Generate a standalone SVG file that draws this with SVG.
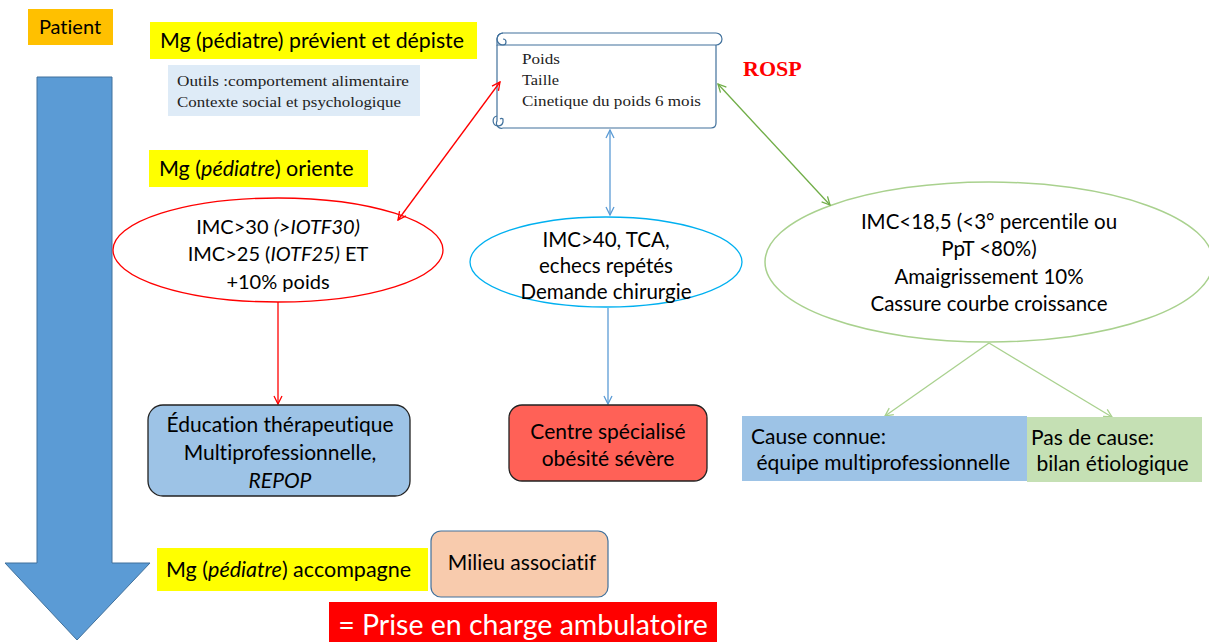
<svg xmlns="http://www.w3.org/2000/svg" width="1209" height="642" viewBox="0 0 1209 642">
<defs>
<style>
.t{font-family:Lato,"Liberation Sans",sans-serif;fill:#000;font-variant-ligatures:none;}
.s{font-family:"Liberation Serif",serif;fill:#222;font-size:15.5px;}
.c{text-anchor:middle;}
</style>
<marker id="aR" viewBox="0 0 10 10" refX="9" refY="5" markerWidth="10" markerHeight="10" orient="auto-start-reverse" markerUnits="userSpaceOnUse"><path d="M1,1 L9,5 L1,9" fill="none" stroke="#FF0000" stroke-width="1.3"/></marker>
<marker id="aB" viewBox="0 0 10 10" refX="9" refY="5" markerWidth="10" markerHeight="10" orient="auto-start-reverse" markerUnits="userSpaceOnUse"><path d="M1,1 L9,5 L1,9" fill="none" stroke="#5B9BD5" stroke-width="1.3"/></marker>
<marker id="aG" viewBox="0 0 10 10" refX="9" refY="5" markerWidth="10" markerHeight="10" orient="auto-start-reverse" markerUnits="userSpaceOnUse"><path d="M1,1 L9,5 L1,9" fill="none" stroke="#70AD47" stroke-width="1.3"/></marker>
<marker id="aL" viewBox="0 0 10 10" refX="9" refY="5" markerWidth="10" markerHeight="10" orient="auto-start-reverse" markerUnits="userSpaceOnUse"><path d="M1,1 L9,5 L1,9" fill="none" stroke="#A9D18E" stroke-width="1.3"/></marker>
</defs>
<rect width="1209" height="642" fill="#fff"/>

<g id="bigArrow">
<path d="M37,77 L112,77 L112,563 L150,563 L77,640 L5,563 L37,563 Z" fill="#5B9BD5" stroke="#41719C" stroke-width="1"/>
</g>

<g id="patient">
<rect x="28" y="9" width="85" height="36" fill="#FFC000"/>
<text class="t c" x="70" y="34" font-size="20">Patient</text>
</g>

<g id="previent">
<rect x="150" y="22" width="327" height="37" fill="#FFFF00"/>
<text class="t" x="160" y="48" font-size="21.3">Mg (pédiatre) prévient et dépiste</text>
</g>

<g id="outils">
<rect x="168" y="65" width="252" height="51" fill="#DEEBF7"/>
<text class="s" x="177" y="86" textLength="232" lengthAdjust="spacingAndGlyphs">Outils :comportement alimentaire</text>
<text class="s" x="177" y="107" textLength="224" lengthAdjust="spacingAndGlyphs">Contexte social et psychologique</text>
</g>

<g id="oriente">
<rect x="149" y="150" width="219" height="37" fill="#FFFF00"/>
<text class="t" x="159" y="176" font-size="21.5">Mg (<tspan font-style="italic">pédiatre</tspan>) oriente</text>
</g>

<g id="scroll">
<rect x="497" y="45" width="219" height="83" fill="#fff" stroke="none"/>
<path d="M497,45 L497,121 A5,5 0 0 0 503,128 L711,128 Q716,128 716,123 L716,45" fill="none" stroke="#41719C" stroke-width="1.2"/>
<path d="M503,33 L716,33 A6,6 0 0 1 716,45 L497,45 L497,39 A6,6 0 0 1 503,33 Z" fill="#fff" stroke="#41719C" stroke-width="1.2"/>
<path d="M503,33 A6,6 0 0 0 503,45 A3,3 0 0 0 503,39" fill="none" stroke="#41719C" stroke-width="1.2"/>
<path d="M497,116 A5,5 0 1 0 503,122 L503,119 A2.5,2.5 0 0 0 500,119" fill="none" stroke="#41719C" stroke-width="1.2"/>
<text class="s" x="522" y="64" textLength="38" lengthAdjust="spacingAndGlyphs">Poids</text>
<text class="s" x="522" y="85" textLength="37" lengthAdjust="spacingAndGlyphs">Taille</text>
<text class="s" x="522" y="106" textLength="179" lengthAdjust="spacingAndGlyphs">Cinetique du poids 6 mois</text>
</g>

<g id="rosp">
<text x="743" y="76" font-family="Liberation Serif,serif" font-weight="bold" font-size="22" fill="#FF0000">ROSP</text>
</g>

<g id="ellRed">
<ellipse cx="278" cy="250" rx="165" ry="52" fill="#fff" stroke="#FF0000" stroke-width="1.3"/>
<text class="t c" x="278" y="234" font-size="20">IMC&gt;30 <tspan font-style="italic">(&gt;IOTF30)</tspan></text>
<text class="t c" x="278" y="261" font-size="20">IMC&gt;25 (<tspan font-style="italic">IOTF25)</tspan> ET</text>
<text class="t c" x="278" y="289" font-size="20">+10% poids</text>
</g>

<g id="ellCyan">
<ellipse cx="606" cy="262" rx="136" ry="45" fill="#fff" stroke="#00B0F0" stroke-width="1.3"/>
<text class="t c" x="606" y="247" font-size="20.5">IMC&gt;40, TCA,</text>
<text class="t c" x="606" y="273" font-size="20.5">echecs repétés</text>
<text class="t c" x="606" y="299" font-size="20.5">Demande chirurgie</text>
</g>

<g id="ellGreen">
<ellipse cx="989" cy="262" rx="224" ry="80" fill="#fff" stroke="#A9D18E" stroke-width="1.5"/>
<text class="t c" x="989" y="229" font-size="20.5">IMC&lt;18,5 (&lt;3° percentile ou</text>
<text class="t c" x="989" y="256" font-size="20.5">PpT &lt;80%)</text>
<text class="t c" x="989" y="284" font-size="20.5">Amaigrissement 10%</text>
<text class="t c" x="989" y="311" font-size="20.5">Cassure courbe croissance</text>
</g>

<g id="connectors" fill="none" stroke-width="1.3">
<line x1="398" y1="220" x2="500" y2="82" stroke="#FF0000" marker-start="url(#aR)" marker-end="url(#aR)"/>
<line x1="610" y1="130" x2="610" y2="215" stroke="#5B9BD5" marker-start="url(#aB)" marker-end="url(#aB)"/>
<line x1="718" y1="84" x2="830" y2="205" stroke="#70AD47" marker-start="url(#aG)" marker-end="url(#aG)"/>
<line x1="278" y1="302" x2="278" y2="404" stroke="#FF0000" marker-end="url(#aR)"/>
<line x1="608" y1="308" x2="608" y2="404" stroke="#5B9BD5" marker-end="url(#aB)"/>
<line x1="989" y1="343" x2="885" y2="416" stroke="#A9D18E" marker-end="url(#aL)"/>
<line x1="989" y1="343" x2="1112" y2="417" stroke="#A9D18E" marker-end="url(#aL)"/>
</g>

<g id="education">
<rect x="148" y="405" width="262" height="91" rx="15" fill="#9DC3E6" stroke="#222" stroke-width="1.3"/>
<text class="t c" x="280" y="432" font-size="21">Éducation thérapeutique</text>
<text class="t c" x="280" y="460" font-size="21">Multiprofessionnelle,</text>
<text class="t c" x="280" y="488" font-size="21" font-style="italic">REPOP</text>
</g>

<g id="centre">
<rect x="509" y="405" width="198" height="76" rx="13" fill="#FF6157" stroke="#222" stroke-width="1.3"/>
<text class="t c" x="608" y="439" font-size="21">Centre spécialisé</text>
<text class="t c" x="608" y="466" font-size="21">obésité sévère</text>
</g>

<g id="causeConnue">
<rect x="742" y="416" width="285" height="65" fill="#9DC3E6"/>
<text class="t" x="751" y="444" font-size="21">Cause connue:</text>
<text class="t" x="751" y="470" font-size="21" xml:space="preserve"> équipe multiprofessionnelle</text>
</g>

<g id="pasCause">
<rect x="1027" y="417" width="175" height="65" fill="#C5E0B4"/>
<text class="t" x="1031" y="445" font-size="21">Pas de cause:</text>
<text class="t" x="1031" y="471" font-size="21" xml:space="preserve"> bilan étiologique</text>
</g>

<g id="accompagne">
<rect x="157" y="548" width="271" height="43" fill="#FFFF00"/>
<text class="t" x="166" y="577" font-size="21.5">Mg (<tspan font-style="italic">pédiatre</tspan>) accompagne</text>
</g>

<g id="milieu">
<rect x="431" y="531" width="177" height="66" rx="10" fill="#F8CBAD" stroke="#41719C" stroke-width="1.2"/>
<text class="t c" x="522" y="570" font-size="21">Milieu associatif</text>
</g>

<g id="ambulatoire">
<rect x="329" y="602" width="388" height="40" fill="#FF0000"/>
<text class="t c" x="523" y="635" font-size="28.5" style="fill:#fff">= Prise en charge ambulatoire</text>
</g>
</svg>
